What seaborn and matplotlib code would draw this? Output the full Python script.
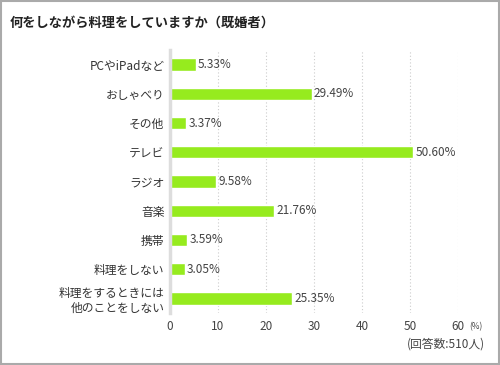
import matplotlib
matplotlib.use('Agg')
import matplotlib.pyplot as plt
import seaborn as sns
import pandas as pd

# data
categories = ['PCやiPadなど', 'おしゃべり', 'その他', 'テレビ', 'ラジオ', '音楽', '携帯',
              '料理をしない', '料理をするときには\n他のことをしない']
values = [5.33, 29.49, 3.37, 50.60, 9.58, 21.76, 3.59, 3.05, 25.35]
xticks = [0, 10, 20, 30, 40, 50, 60]

df = pd.DataFrame({'item': categories, 'pct': values})

sns.set_theme(style='white')
plt.rcParams['font.family'] = ['Noto Sans CJK JP', 'DejaVu Sans']

fig = plt.figure(figsize=(5, 3.65), dpi=100)
ax = fig.add_axes([0.34, 0.1425, 0.576, 0.7205])

sns.barplot(data=df, x='pct', y='item', color='#96EB1E', saturation=1,
            width=0.42, orient='h', ax=ax)

# value labels next to each bar
for i, v in enumerate(values):
    ax.text(v + 0.5, i, f'{v:.2f}%', va='center', ha='left', fontsize=8.5, color='#444444')

ax.set_xlim(0, 60)
ax.set_ylim(8.5, -0.5)
ax.set_xticks(xticks)
ax.set_xticklabels([str(t) for t in xticks], fontsize=8.5, color='#444444')
ax.tick_params(axis='y', labelsize=8.5, labelcolor='#333333', length=0, pad=4)
ax.tick_params(axis='x', length=0, pad=5)
ax.set_xlabel('')
ax.set_ylabel('')
for t in xticks[1:]:
    ax.axvline(t, color='#cccccc', linestyle=(0, (1, 2)), linewidth=0.8, zorder=0)
for s in ['top', 'right', 'bottom']:
    ax.spines[s].set_visible(False)
ax.spines['left'].set_color('#dddddd')
ax.spines['left'].set_linewidth(2.5)

fig.text(0.02, 0.938, '何をしながら料理をしていますか（既婚者）', fontsize=9.5, fontweight='bold',
         color='#222222', ha='left', va='center')
fig.text(0.952, 0.105, '(%)', fontsize=6, color='#444444', ha='center', va='center')
fig.text(0.97, 0.058, '(回答数:510人)', fontsize=8.5, color='#444444', ha='right', va='center')

# outer frame
fig.patches.append(plt.Rectangle((0.002, 0.003), 0.995, 0.994, transform=fig.transFigure,
                                 fill=False, edgecolor='#aaaaaa', linewidth=1.5))

fig.savefig('out.png', dpi=100)
